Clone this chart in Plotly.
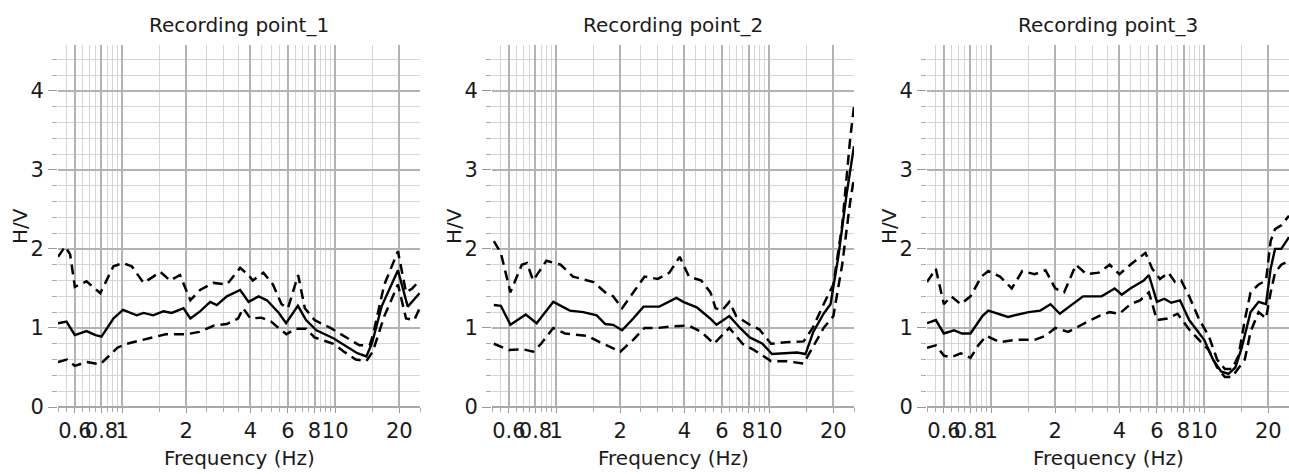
import plotly.graph_objects as go
import math

# ---------------- data ----------------
titles = ["Recording point_1", "Recording point_2", "Recording point_3"]
major_ticks = [0.6, 0.8, 1, 2, 4, 6, 8, 10, 20]
major_labels = ["0.6", "0.8", "1", "2", "4", "6", "8", "10", "20"]
minor_ticks = [0.5, 0.55, 0.65, 0.7, 0.75, 0.85, 0.9, 0.95, 1.5, 2.5, 3, 3.5,
               4.5, 5, 5.5, 6.5, 7, 7.5, 8.5, 9, 9.5, 15, 25]
y_major = [0, 1, 2, 3, 4]
y_minor = [0.2, 0.4, 0.6, 0.8, 1.2, 1.4, 1.6, 1.8, 2.2, 2.4, 2.6, 2.8,
           3.2, 3.4, 3.6, 3.8, 4.2, 4.4]

# Recording point 1
p1_mean_f = [0.5, 0.548, 0.6, 0.68, 0.75, 0.8, 0.91, 1.01, 1.17, 1.26, 1.40, 1.56, 1.71, 1.94,
             2.09, 2.32, 2.59, 2.78, 3.10, 3.58, 3.92, 4.37, 4.78, 5.44, 5.88, 6.68, 7.3, 8.16,
             9.8, 11.4, 12.7, 14.0, 14.9, 16.5, 19.7, 21.9, 24.9]
p1_mean_v = [1.06, 1.08, 0.91, 0.96, 0.91, 0.89, 1.12, 1.23, 1.16, 1.19, 1.16, 1.21, 1.19, 1.25,
             1.12, 1.21, 1.33, 1.29, 1.40, 1.48, 1.33, 1.40, 1.35, 1.19, 1.06, 1.28, 1.10, 0.97,
             0.87, 0.76, 0.68, 0.64, 0.81, 1.27, 1.73, 1.27, 1.44]
p1_up_f = [0.5, 0.54, 0.57, 0.6, 0.68, 0.79, 0.91, 1.01, 1.11, 1.26, 1.40, 1.51, 1.68, 1.87,
           2.09, 2.32, 2.68, 3.10, 3.58, 3.92, 4.1, 4.6, 5.1, 5.6, 6.0, 6.7, 7.2, 8.0, 9.5,
           11.0, 13.0, 14.5, 15.0, 17.0, 19.7, 21.5, 23.0, 24.9]
p1_up_v = [1.90, 2.03, 1.93, 1.52, 1.59, 1.44, 1.78, 1.82, 1.78, 1.57, 1.65, 1.71, 1.60, 1.67,
           1.35, 1.48, 1.57, 1.55, 1.76, 1.67, 1.60, 1.70, 1.55, 1.30, 1.25, 1.67, 1.25, 1.10, 1.00,
           0.90, 0.78, 0.78, 0.90, 1.55, 1.97, 1.45, 1.50, 1.60]
p1_lo_f = [0.5, 0.55, 0.6, 0.68, 0.79, 0.85, 0.95, 1.05, 1.26, 1.4, 1.6, 2.0, 2.3, 2.7, 3.1,
           3.5, 3.7, 4.0, 4.5, 5.0, 5.9, 6.5, 7.3, 8.0, 9.8, 11.0, 12.5, 14.0, 15.0, 17.0,
           19.7, 21.5, 23.5, 24.9]
p1_lo_v = [0.57, 0.60, 0.52, 0.57, 0.54, 0.62, 0.75, 0.80, 0.85, 0.88, 0.92, 0.92, 0.95, 1.03,
           1.05, 1.12, 1.25, 1.12, 1.13, 1.08, 0.92, 0.99, 0.99, 0.88, 0.80, 0.70, 0.60, 0.58,
           0.70, 1.15, 1.55, 1.12, 1.10, 1.25]

# Recording point 2
p2_mean_f = [0.51, 0.55, 0.61, 0.72, 0.81, 0.97, 1.16, 1.34, 1.55, 1.70, 1.85, 2.04, 2.30, 2.57,
             3.05, 3.67, 3.95, 4.57, 5.28, 5.66, 6.5, 7.3, 8.1, 9.3, 10.3, 13.5, 14.8, 16.1,
             18.0, 19.4, 21.1, 23.1, 25.0]
p2_mean_v = [1.29, 1.28, 1.04, 1.17, 1.06, 1.33, 1.22, 1.20, 1.16, 1.05, 1.04, 0.97, 1.12, 1.27,
             1.27, 1.38, 1.33, 1.26, 1.12, 1.04, 1.15, 1.00, 0.88, 0.80, 0.67, 0.69, 0.67, 0.95,
             1.18, 1.30, 1.90, 2.70, 3.30]
p2_up_f = [0.51, 0.55, 0.61, 0.69, 0.73, 0.78, 0.9, 1.05, 1.2, 1.5, 1.7, 1.85, 2.04, 2.3, 2.6,
           3.0, 3.4, 3.8, 4.2, 4.8, 5.3, 5.6, 6.0, 6.5, 7.0, 8.0, 9.0, 10.2, 12.0, 14.5, 16.0,
           18.0, 20.0, 22.0, 24.0, 25.0]
p2_up_v = [2.10, 1.95, 1.45, 1.80, 1.82, 1.60, 1.85, 1.80, 1.65, 1.58, 1.45, 1.40, 1.25, 1.45,
           1.65, 1.62, 1.70, 1.90, 1.65, 1.60, 1.45, 1.25, 1.22, 1.33, 1.15, 1.05, 0.98, 0.80,
           0.82, 0.83, 1.00, 1.30, 1.55, 2.30, 3.40, 3.80]
p2_lo_f = [0.51, 0.6, 0.7, 0.78, 0.85, 0.97, 1.1, 1.4, 1.6, 2.0, 2.3, 2.6, 3.0, 3.5, 4.2, 4.8,
           5.5, 6.5, 7.5, 8.5, 10.2, 12.0, 14.5, 16.0, 18.0, 20.0, 22.0, 24.0, 25.0]
p2_lo_v = [0.80, 0.72, 0.73, 0.70, 0.80, 1.00, 0.93, 0.90, 0.82, 0.70, 0.85, 1.00, 1.00, 1.02,
           1.03, 0.95, 0.80, 1.00, 0.80, 0.72, 0.58, 0.58, 0.55, 0.75, 1.00, 1.15, 1.80, 2.60, 2.90]

# Recording point 3
p3_mean_f = [0.5, 0.55, 0.6, 0.67, 0.73, 0.8, 0.91, 0.97, 1.2, 1.5, 1.7, 1.9, 2.1, 2.4, 2.7,
             3.3, 3.8, 4.1, 4.5, 5.2, 5.5, 6.0, 6.5, 7.0, 7.7, 8.5, 10.0, 11.0, 12.0, 13.0,
             14.0, 15.0, 16.5, 18.0, 19.5, 20.5, 21.5, 23.0, 25.0]
p3_mean_v = [1.06, 1.10, 0.93, 0.97, 0.93, 0.93, 1.15, 1.22, 1.14, 1.20, 1.22, 1.30, 1.18, 1.30,
             1.40, 1.40, 1.50, 1.42, 1.50, 1.60, 1.67, 1.33, 1.37, 1.32, 1.35, 1.10, 0.85, 0.60,
             0.45, 0.42, 0.50, 0.75, 1.20, 1.33, 1.30, 1.75, 2.00, 2.00, 2.15]
p3_up_f = [0.5, 0.55, 0.6, 0.65, 0.72, 0.8, 0.9, 0.97, 1.1, 1.25, 1.4, 1.6, 1.8, 2.0, 2.2, 2.5,
           2.8, 3.2, 3.6, 4.0, 4.5, 5.0, 5.3, 5.7, 6.2, 6.8, 7.3, 7.8, 8.5, 9.5, 10.5, 11.5,
           12.5, 13.5, 14.5, 15.5, 16.5, 18.0, 19.5, 20.5, 21.5, 23.0, 25.0]
p3_up_v = [1.58, 1.75, 1.30, 1.40, 1.30, 1.40, 1.65, 1.72, 1.65, 1.50, 1.72, 1.68, 1.73, 1.50,
           1.45, 1.80, 1.68, 1.70, 1.80, 1.68, 1.80, 1.90, 1.95, 1.75, 1.62, 1.70, 1.58, 1.60,
           1.40, 1.10, 0.90, 0.60, 0.48, 0.48, 0.65, 1.10, 1.45, 1.55, 1.60, 2.10, 2.25, 2.30, 2.42]
p3_lo_f = [0.5, 0.55, 0.6, 0.65, 0.72, 0.8, 0.87, 0.95, 1.1, 1.3, 1.6, 1.8, 2.0, 2.3, 2.7, 3.2,
           3.6, 4.0, 4.5, 5.0, 5.5, 6.0, 6.7, 7.5, 8.5, 9.5, 10.5, 11.5, 12.5, 13.5, 14.5, 15.5,
           16.5, 18.0, 19.5, 20.5, 21.5, 23.0, 25.0]
p3_lo_v = [0.75, 0.78, 0.65, 0.63, 0.68, 0.62, 0.78, 0.90, 0.82, 0.85, 0.85, 0.90, 1.00, 0.95,
           1.05, 1.15, 1.20, 1.18, 1.30, 1.35, 1.45, 1.10, 1.12, 1.18, 0.98, 0.85, 0.72, 0.50,
           0.38, 0.38, 0.50, 0.60, 0.95, 1.20, 1.12, 1.45, 1.70, 1.80, 1.85]

panels = [
    (p1_mean_f, p1_mean_v, p1_up_f, p1_up_v, p1_lo_f, p1_lo_v),
    (p2_mean_f, p2_mean_v, p2_up_f, p2_up_v, p2_lo_f, p2_lo_v),
    (p3_mean_f, p3_mean_v, p3_up_f, p3_up_v, p3_lo_f, p3_lo_v),
]

# ---------------- layout ----------------
W, H = 1289, 474
ML, MR, MT, MB = 58, 0, 45, 67
PW = W - ML - MR
domains = [[0, 362 / PW], [(492 - ML) / PW, (854 - ML) / PW], [(927 - ML) / PW, 1.0]]

FONT = "DejaVu Sans, Verdana, sans-serif"
TXT = "#1a1a1a"
MAJ = "#b3b3b3"
MIN = "#d6d6d6"

fig = go.Figure()
for i, (mf, mv, uf, uv, lf, lv) in enumerate(panels):
    xa = "x" if i == 0 else f"x{i+1}"
    ya = "y" if i == 0 else f"y{i+1}"
    dash = dict(color="black", width=2.5, dash="10px,6px")
    fig.add_trace(go.Scatter(x=uf, y=uv, mode="lines", line=dash, xaxis=xa, yaxis=ya,
                             showlegend=False, cliponaxis=True))
    fig.add_trace(go.Scatter(x=lf, y=lv, mode="lines", line=dash, xaxis=xa, yaxis=ya,
                             showlegend=False, cliponaxis=True))
    fig.add_trace(go.Scatter(x=mf, y=mv, mode="lines", line=dict(color="black", width=2.4),
                             xaxis=xa, yaxis=ya, showlegend=False, cliponaxis=True))

    xkey = "xaxis" if i == 0 else f"xaxis{i+1}"
    ykey = "yaxis" if i == 0 else f"yaxis{i+1}"
    fig.layout[xkey] = dict(
        type="log", domain=domains[i], anchor=ya,
        range=[math.log10(0.5), math.log10(25)],
        tickmode="array", tickvals=major_ticks, ticktext=major_labels, tickangle=0,
        ticks="outside", ticklen=5, tickcolor="#999999", tickwidth=1,
        showgrid=True, gridcolor=MAJ, gridwidth=2,
        minor=dict(tickvals=minor_ticks, ticks="outside", ticklen=4, tickcolor="#aaaaaa",
                   showgrid=True, gridcolor=MIN, gridwidth=1.4),
        tickfont=dict(family=FONT, size=21, color=TXT),
        showline=False, zeroline=False, fixedrange=True,
    )
    fig.layout[ykey] = dict(
        domain=[0, 1], anchor=xa, range=[0, 4.58],
        tickmode="array", tickvals=y_major,
        ticks="outside", ticklen=9, tickcolor="#999999", tickwidth=1,
        showgrid=True, gridcolor=MAJ, gridwidth=2,
        minor=dict(tickvals=y_minor, ticks="outside", ticklen=5, tickcolor="#aaaaaa",
                   showgrid=True, gridcolor=MIN, gridwidth=1.4),
        zeroline=True, zerolinecolor="#a8a8a8", zerolinewidth=2,
        tickfont=dict(family=FONT, size=21, color=TXT),
        showline=False, fixedrange=True,
    )

annotations = []
for i in range(3):
    xd = "x domain" if i == 0 else f"x{i+1} domain"
    yd = "y domain" if i == 0 else f"y{i+1} domain"
    annotations.append(dict(text=titles[i], xref=xd, yref=yd, x=0.5, y=1, yanchor="bottom",
                            yshift=6, showarrow=False,
                            font=dict(family=FONT, size=20, color=TXT)))
    annotations.append(dict(text="Frequency (Hz)", xref=xd, yref=yd, x=0.5, y=0,
                            yanchor="middle", yshift=-51, showarrow=False,
                            font=dict(family=FONT, size=20, color=TXT)))
    annotations.append(dict(text="H/V", xref=xd, yref=yd, x=0, y=0.5, xanchor="center",
                            xshift=-38, textangle=-90, showarrow=False,
                            font=dict(family=FONT, size=20, color=TXT)))

fig.update_layout(
    width=W, height=H, margin=dict(l=ML, r=MR, t=MT, b=MB),
    paper_bgcolor="white", plot_bgcolor="white",
    annotations=annotations, showlegend=False,
)

fig.write_html("out.html", config={"displayModeBar": False})
